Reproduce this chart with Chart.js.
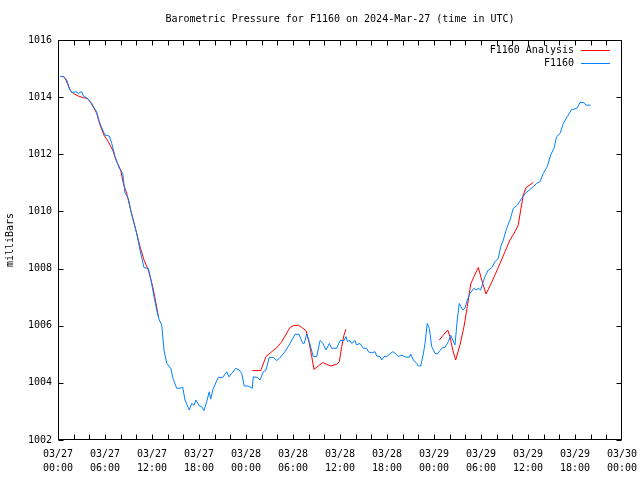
<!DOCTYPE html>
<html><head><meta charset="utf-8">
<script src="https://cdn.jsdelivr.net/npm/chart.js@4/dist/chart.umd.min.js"></script>
<style>html,body{margin:0;padding:0;background:#fff}</style>
</head><body>
<canvas id="c" width="640" height="480"></canvas>
<script>
const titleText = "Barometric Pressure for F1160 on 2024-Mar-27 (time in UTC)";
const yAxisTitle = "milliBars";
const seriesLabels = ["F1160 Analysis", "F1160"];
const seriesColors = ["#ff0000", "#0080ff"];
const xTickHours = [0, 6, 12, 18, 24, 30, 36, 42, 48, 54, 60, 66, 72];
const startDay = 27;
const yTickValues = [1002, 1004, 1006, 1008, 1010, 1012, 1014, 1016];

// F1160 observations (hours since 03/27 00:00 UTC, millibars)
const obsHours = [0.26,0.68,1.11,1.53,1.75,2.30,2.59,3.03,3.23,3.74,4.09,4.43,4.94,5.27,5.71,6.00,6.55,6.86,7.28,7.83,8.26,8.55,8.97,9.41,10.05,10.47,10.98,11.53,11.83,12.26,12.60,12.93,13.24,13.53,13.88,14.39,14.72,15.15,15.57,15.92,16.21,16.76,17.07,17.36,17.62,18.04,18.34,18.64,18.98,19.31,19.49,19.83,20.46,21.03,21.54,21.83,22.17,22.69,23.14,23.45,23.78,24.29,24.80,24.93,25.44,25.79,26.21,26.55,26.97,27.48,27.92,28.25,28.98,29.62,30.26,30.77,31.24,31.44,31.75,32.08,32.59,33.03,33.45,33.79,34.21,34.64,34.94,35.58,36.00,36.51,36.77,36.93,37.28,37.49,37.91,38.13,38.55,38.98,39.41,39.61,40.05,40.47,40.69,41.11,41.32,41.62,41.96,42.17,42.73,43.02,43.45,43.88,44.43,44.85,45.03,45.36,45.79,46.00,46.30,46.64,46.85,47.14,47.40,47.71,48.13,48.42,48.77,49.11,49.40,49.83,50.13,50.39,50.68,50.97,51.23,51.66,51.96,52.25,52.60,53.11,53.36,53.66,53.96,54.22,54.51,54.93,55.37,55.79,56.21,56.52,56.85,57.28,57.70,58.13,58.64,59.20,59.74,60.17,60.68,61.11,61.53,61.95,62.46,62.90,63.32,63.66,64.09,64.51,65.02,65.58,66.22,66.64,67.15,67.40,68.00];
const obsValues = [1014.72,1014.72,1014.60,1014.25,1014.16,1014.19,1014.13,1014.19,1014.04,1013.96,1013.84,1013.69,1013.49,1013.14,1012.85,1012.67,1012.64,1012.38,1011.92,1011.51,1011.33,1010.66,1010.46,1009.88,1009.23,1008.65,1008.03,1008.01,1007.66,1007.02,1006.55,1006.20,1006.03,1005.15,1004.68,1004.51,1004.12,1003.81,1003.81,1003.85,1003.40,1003.05,1003.28,1003.22,1003.40,1003.19,1003.17,1003.03,1003.34,1003.69,1003.43,1003.81,1004.19,1004.19,1004.39,1004.21,1004.33,1004.51,1004.45,1004.33,1003.89,1003.89,1003.81,1004.21,1004.19,1004.10,1004.39,1004.45,1004.89,1004.89,1004.78,1004.85,1005.09,1005.38,1005.70,1005.70,1005.38,1005.38,1005.71,1005.44,1004.92,1004.92,1005.48,1005.40,1005.15,1005.38,1005.21,1005.21,1005.48,1005.48,1005.62,1005.45,1005.48,1005.38,1005.48,1005.33,1005.38,1005.21,1005.21,1005.09,1005.05,1005.09,1004.94,1004.92,1004.80,1004.92,1004.92,1004.97,1005.09,1005.04,1004.92,1004.97,1004.90,1004.90,1005.01,1004.80,1004.68,1004.59,1004.59,1005.01,1005.38,1006.08,1005.90,1005.27,1005.03,1005.01,1005.13,1005.24,1005.24,1005.44,1005.67,1005.50,1005.33,1006.20,1006.78,1006.55,1006.62,1006.90,1007.13,1007.31,1007.25,1007.31,1007.25,1007.48,1007.72,1007.95,1008.03,1008.24,1008.36,1008.77,1009.00,1009.41,1009.70,1010.11,1010.22,1010.46,1010.66,1010.75,1010.87,1010.98,1011.04,1011.33,1011.57,1011.98,1012.21,1012.62,1012.73,1013.08,1013.32,1013.57,1013.60,1013.81,1013.81,1013.72,1013.72];

// F1160 Analysis (null = gap between analysis runs)
const anaHours = [0.68,1.02,1.53,1.95,2.59,3.23,3.74,4.30,4.94,5.36,5.87,6.42,6.98,7.40,8.00,8.34,8.77,9.28,9.83,10.47,10.98,11.53,12.09,12.51,12.80,
  18.0,
  24.80,25.88,26.55,27.28,27.92,28.56,28.98,29.62,30.04,30.68,31.11,31.66,32.08,32.39,32.68,33.23,33.79,34.30,34.81,35.58,35.91,36.22,36.51,36.77,
  42.0,
  48.68,49.19,49.75,50.04,50.39,50.77,51.32,51.83,52.25,52.69,53.11,53.66,54.09,54.64,55.15,55.79,56.43,57.06,57.70,58.34,58.76,59.07,59.40,59.74,60.26,60.68];
const anaValues = [1014.74,1014.60,1014.25,1014.13,1014.04,1013.98,1013.96,1013.78,1013.43,1013.03,1012.67,1012.44,1012.15,1011.80,1011.45,1010.98,1010.63,1010.05,1009.47,1008.77,1008.30,1007.95,1007.37,1006.78,1006.34,
  null,
  1004.43,1004.43,1004.92,1005.09,1005.23,1005.44,1005.64,1005.94,1006.00,1006.02,1005.94,1005.83,1005.38,1004.92,1004.47,1004.59,1004.71,1004.65,1004.59,1004.65,1004.74,1005.27,1005.67,1005.88,
  null,
  1005.50,1005.67,1005.85,1005.62,1005.15,1004.80,1005.33,1005.97,1006.67,1007.46,1007.72,1008.04,1007.60,1007.11,1007.39,1007.78,1008.18,1008.59,1009.00,1009.29,1009.53,1010.05,1010.58,1010.83,1010.93,1011.02];

const FONT = {family: "'DejaVu Sans Mono', 'Liberation Mono', monospace", size: 10, weight: 'normal'};
const toPts = (xs, ys) => xs.map((x, i) => ({x: x, y: ys[i]}));
const pad2 = n => String(n).padStart(2, '0');

const framePlugin = {
  id: 'frame',
  afterDraw(chart) {
    const ctx = chart.ctx, a = chart.chartArea;
    const xs = chart.scales.x, ys = chart.scales.y;
    ctx.save();
    ctx.strokeStyle = '#000';
    ctx.lineWidth = 1;
    ctx.beginPath();
    const L = Math.round(a.left) + 0.5, R = Math.round(a.right) - 0.5;
    const T = Math.round(a.top) + 0.5, B = Math.round(a.bottom) - 0.5;
    ctx.rect(L, T, R - L, B - T);
    for (let h = xs.min; h <= xs.max; h += 2) {
      const px = Math.min(Math.round(xs.getPixelForValue(h)) + 0.5, R);
      ctx.moveTo(px, B); ctx.lineTo(px, B - 5);
      ctx.moveTo(px, T); ctx.lineTo(px, T + 5);
    }
    yTickValues.forEach(v => {
      const py = Math.round(ys.getPixelForValue(v)) + 0.5;
      ctx.moveTo(L, py); ctx.lineTo(L + 5, py);
      ctx.moveTo(R, py); ctx.lineTo(R - 5, py);
    });
    ctx.stroke();
    ctx.font = FONT.size + 'px ' + FONT.family;
    ctx.textBaseline = 'middle';
    ctx.fillStyle = '#000';
    // title centred over the plot area
    ctx.textAlign = 'center';
    ctx.fillText(titleText, (a.left + a.right) / 2, 19);
    // key, gnuplot style: text right-aligned, line sample to its right
    ctx.textAlign = 'right';
    seriesLabels.forEach((lab, i) => {
      const y = 50 + i * 13;
      ctx.fillText(lab, 574, y);
      ctx.beginPath();
      ctx.strokeStyle = seriesColors[i];
      ctx.moveTo(581, y + 0.5); ctx.lineTo(610, y + 0.5);
      ctx.stroke();
    });
    ctx.restore();
  }
};

new Chart(document.getElementById('c'), {
  type: 'line',
  data: {
    datasets: [
      {label: seriesLabels[0], data: toPts(anaHours, anaValues), borderColor: seriesColors[0], backgroundColor: seriesColors[0], borderWidth: 1, pointRadius: 0, tension: 0, spanGaps: false, order: 1},
      {label: seriesLabels[1], data: toPts(obsHours, obsValues), borderColor: seriesColors[1], backgroundColor: seriesColors[1], borderWidth: 1, pointRadius: 0, tension: 0, spanGaps: false, order: 0}
    ]
  },
  options: {
    responsive: false,
    animation: false,
    devicePixelRatio: 1,
    layout: {padding: {left: 0, right: 18, top: 40, bottom: 0}},
    plugins: {
      legend: {display: false},
      tooltip: {enabled: false},
      title: {display: false}
    },
    scales: {
      x: {
        type: 'linear', min: 0, max: 72,
        afterFit: s => { s.height = 40; s.paddingLeft = 0; s.paddingRight = 0; },
        afterBuildTicks: s => { s.ticks = xTickHours.map(v => ({value: v})); },
        grid: {display: false, drawTicks: false},
        border: {display: false},
        ticks: {
          autoSkip: false, maxRotation: 0, padding: 7, color: '#000',
          font: Object.assign({lineHeight: 1.4}, FONT),
          callback: v => {
            const d = startDay + Math.floor(v / 24);
            return ['03/' + pad2(d), pad2(v % 24) + ':00'];
          }
        }
      },
      y: {
        min: 1002, max: 1016,
        afterFit: s => { s.width = 58; s.paddingTop = 0; s.paddingBottom = 0; },
        afterBuildTicks: s => { s.ticks = yTickValues.map(v => ({value: v})); },
        grid: {display: false, drawTicks: false},
        border: {display: false},
        title: {display: true, text: yAxisTitle, color: '#000', font: FONT, padding: {top: 4, bottom: 0}},
        ticks: {padding: 6, color: '#000', font: FONT, callback: v => String(v)}
      }
    }
  },
  plugins: [framePlugin]
});
</script>
</body></html>
